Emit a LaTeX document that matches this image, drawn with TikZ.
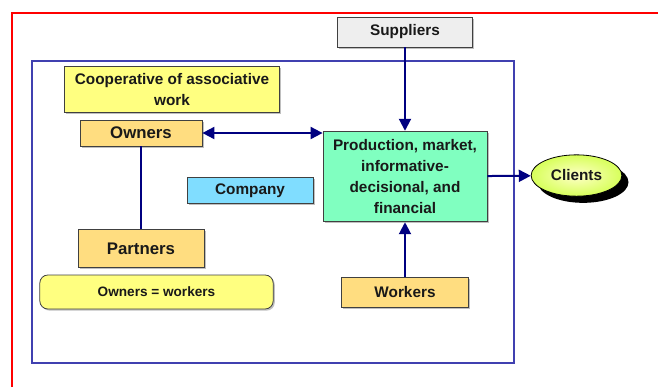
\documentclass[tikz,border=0pt]{standalone}
\usepackage{fontspec}
\setmainfont{Liberation Sans}
\usetikzlibrary{arrows.meta,shapes.geometric,shadows}

\definecolor{navyline}{RGB}{0,0,128}
\definecolor{frameblue}{RGB}{64,64,176}
\definecolor{boxgray}{RGB}{238,238,238}
\definecolor{boxyellow}{RGB}{255,255,128}
\definecolor{boxorange}{RGB}{255,221,128}
\definecolor{boxcyan}{RGB}{128,221,255}
\definecolor{boxgreen}{RGB}{128,255,192}
\definecolor{clientin}{RGB}{255,255,200}
\definecolor{clientout}{RGB}{215,255,90}

\begin{document}
\begin{tikzpicture}[x=0.75pt,y=-0.75pt,
  box/.style={draw=black!75,line width=0.6pt,inner sep=0pt,align=center,text=black!90,
    font=\fontsize{11.5}{15.75}\selectfont\bfseries,
    drop shadow={shadow xshift=1.2pt,shadow yshift=-1.2pt,fill=black!50}},
  link/.style={navyline,line width=1.5pt},
  arr/.style={link,-{Triangle[length=9pt,width=9pt]}}]
\useasboundingbox (0,0) rectangle (658,387);
\draw[red,line width=0.8pt] (12,387) |- (658,13);
\draw[frameblue,line width=1pt] (32,61) rectangle (514,363);

\node[box,fill=boxgray,minimum width=101pt,minimum height=22.5pt] (sup) at (405,32) {Suppliers};
\node[box,fill=boxyellow,minimum width=161pt,minimum height=35pt] (coop) at (172,89.5) {Cooperative of associative\\work};
\node[box,fill=boxorange,minimum width=91.5pt,minimum height=19.5pt,font=\fontsize{12.6}{15}\selectfont\bfseries] (own) at (141,133) {Owners};
\node[box,fill=boxcyan,minimum width=94.5pt,minimum height=20pt] (comp) at (250,190.5) {Company};
\node[box,fill=boxorange,minimum width=94.5pt,minimum height=29pt,font=\fontsize{12.6}{15}\selectfont\bfseries] (part) at (141,248.5) {Partners};
\node[box,fill=boxyellow,rounded corners=6pt,minimum width=175pt,minimum height=25.5pt,font=\fontsize{10.2}{12}\selectfont\bfseries] (eq) at (156.5,292) {Owners = workers};
\node[box,fill=boxgreen,minimum width=123pt,minimum height=68pt] (prod) at (405,176.5) {Production, market,\\informative-\\decisional, and\\financial};
\node[box,fill=boxorange,minimum width=95pt,minimum height=22.5pt] (work) at (405,292) {Workers};
\node[box,ellipse,draw=black,inner color=clientin,outer color=clientout,minimum width=68pt,minimum height=31pt,
  drop shadow={shadow xshift=5pt,shadow yshift=-5pt,fill=black,opacity=1}] (cli) at (576.5,175.5) {Clients};

\draw[arr] (sup) -- (prod);
\draw[arr] (work) -- (prod);
\draw[arr] (prod) -- (cli);
\draw[link,{Triangle[length=9pt,width=9pt]}-{Triangle[length=9pt,width=9pt]}] (own.east) -- (own.east -| prod.west);
\draw[link] (own) -- (part);
\end{tikzpicture}
\end{document}
